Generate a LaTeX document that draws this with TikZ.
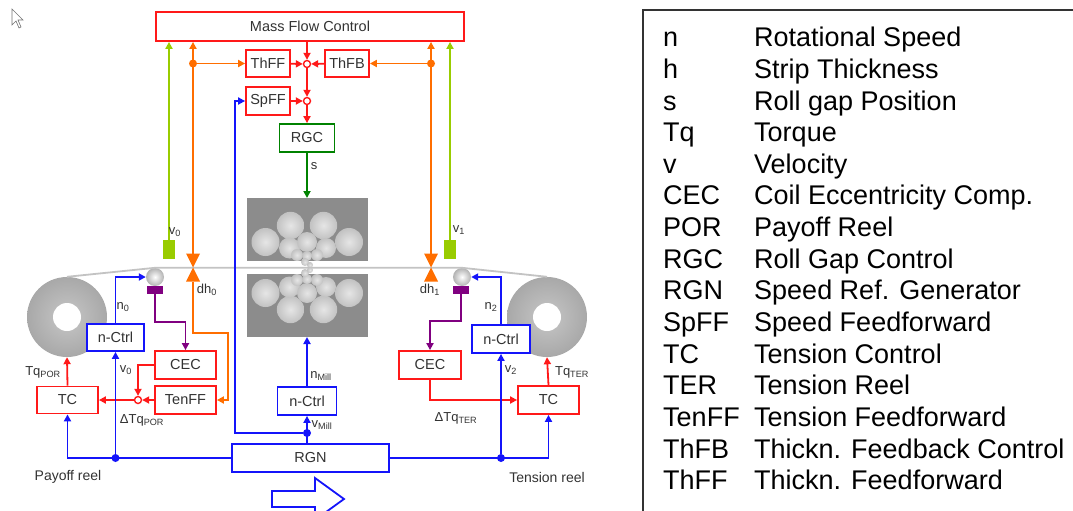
\documentclass[tikz,border=0pt]{standalone}
\usepackage{fontspec}
\setmainfont{Liberation Sans}
\usetikzlibrary{arrows.meta}

\definecolor{ctlred}{RGB}{255,25,25}
\definecolor{ctlblue}{RGB}{20,20,250}
\definecolor{ctlorange}{RGB}{255,110,0}
\definecolor{ctllime}{RGB}{153,204,0}
\definecolor{ctlgreen}{RGB}{0,130,0}
\definecolor{ctlpurple}{RGB}{128,0,128}
\definecolor{stripgray}{RGB}{195,195,195}
\definecolor{txtgray}{RGB}{50,50,50}

\newcommand{\sbs}[1]{\textsubscript{#1}}

\tikzset{
  blk/.style={draw, line width=1.8pt, fill=white, inner sep=0pt, minimum height=28pt,
    text=txtgray, font=\fontsize{14.5}{16}\selectfont},
  sig/.style={line width=1.8pt, -{Triangle[length=7pt,width=7pt]}},
  sumpt/.style={circle, draw=ctlred, fill=white, line width=1.4pt, inner sep=0pt, minimum size=7pt},
  jdot/.style={circle, fill, inner sep=0pt, minimum size=8pt},
  lbl/.style={inner sep=0pt, text=txtgray, font=\fontsize{13}{14}\selectfont},
  coil/.style={circle, inner sep=0pt, minimum size=80pt, shading=radial,
    inner color=black!22, outer color=black!34},
  roller/.style={circle, inner sep=0pt, minimum size=18pt, shading=radial,
    inner color=white, outer color=black!30},
  rollshade/.style={shading=radial, inner color=black!10, outer color=black!24},
  legab/.style={anchor=base west, inner sep=0pt, font=\fontsize{27}{30}\selectfont},
}

\begin{document}
\begin{tikzpicture}[x=1pt, y=-1pt]
\useasboundingbox (0,0) rectangle (1073,511);
\clip (0,0) rectangle (1073,511);

% mouse pointer
\draw[black!55, line width=0.6pt, fill=white] (12,9) -- (12,25) -- (16,21) -- (19,28)
  -- (21,27) -- (18,20) -- (23,20) -- cycle;

% upper control blocks
\node[blk, draw=ctlred, minimum width=308pt, minimum height=29pt] (mfc) at (310,26.5) {Mass Flow Control};
\node[blk, draw=ctlred, minimum width=44pt, minimum height=27pt] (thff) at (268,63.5) {ThFF};
\node[blk, draw=ctlred, minimum width=44pt, minimum height=27pt] (thfb) at (347,63.5) {ThFB};
\node[blk, draw=ctlred, minimum width=44pt] (spff) at (268,101) {SpFF};
\node[blk, draw=ctlgreen, minimum width=55pt] (rgc) at (307,138) {RGC};
\node[sumpt] (sumA) at (307,64) {};
\node[sumpt] (sumB) at (307,101) {};

% coils, rollers and strip
\node[coil] (coilL) at (67,317) {};
\node[coil] (coilR) at (547,317) {};
\fill[white] (coilL) circle (14pt);
\fill[white] (coilR) circle (14pt);
\node[roller] (rollL) at (155,277) {};
\node[roller] (rollR) at (462,277) {};
\draw[stripgray, line width=1.8pt] (coilL.north) -- (rollL.north) -- (rollR.north) -- (coilR.north);

% mill stand
\fill[black!45] (247,198) rectangle (368,261);
\fill[black!45] (247,274) rectangle (368,337);
\foreach \x/\y/\r in {290.5/225.5/13.7, 323.5/225.5/13.7, 265.5/242/14, 349/242/14,
    289.5/248/10.5, 326/248/10, 307/242/10, 297/255/6, 317/255/6, 307/256/5, 305/262/4, 310/265/3}
{
  \shade[rollshade] (\x,\y) circle (\r pt);
  \shade[rollshade] (\x,{535-\y}) circle (\r pt);
}
\coordinate (millT) at (307,198);
\coordinate (millB) at (307,337);

% sensors
\node[fill=ctlpurple, minimum width=16pt, minimum height=8pt, inner sep=0pt] (senL) at (155,290) {};
\node[fill=ctlpurple, minimum width=16pt, minimum height=8pt, inner sep=0pt] (senR) at (461,290) {};
\node[fill=ctllime, minimum width=12pt, minimum height=19pt, inner sep=0pt] (vsenL) at (169,249.5) {};
\node[fill=ctllime, minimum width=12pt, minimum height=19pt, inner sep=0pt] (vsenR) at (450,249.5) {};
\coordinate (dhL) at (193,267.5);
\coordinate (dhR) at (431,267.5);
\coordinate (dhLt) at (193,253.5);
\coordinate (dhLb) at (193,281.5);
\coordinate (dhRt) at (431,253.5);
\fill[ctlorange] (dhL) -- ++(-7,-14) -- ++(14,0) -- cycle (dhL) -- ++(-7,14) -- ++(14,0) -- cycle;
\fill[ctlorange] (dhR) -- ++(-7,-14) -- ++(14,0) -- cycle (dhR) -- ++(-7,14) -- ++(14,0) -- cycle;

% lower control blocks
\node[blk, draw=ctlblue, minimum width=57pt, minimum height=27pt] (ctrlL) at (115.5,337.5) {n-Ctrl};
\node[blk, draw=ctlblue, minimum width=58pt] (ctrlR) at (501,339) {n-Ctrl};
\node[blk, draw=ctlblue, minimum width=59pt] (ctrlM) at (307,401) {n-Ctrl};
\node[blk, draw=ctlred, minimum width=61pt, minimum height=27pt] (tcL) at (67.5,400) {TC};
\node[blk, draw=ctlred, minimum width=61pt] (tcR) at (548.5,400) {TC};
\node[blk, draw=ctlred, minimum width=61pt] (cecL) at (185.5,365) {CEC};
\node[blk, draw=ctlred, minimum width=61pt] (tenff) at (185.5,400) {TenFF};
\node[blk, draw=ctlred, minimum width=62pt] (cecR) at (430,365) {CEC};
\node[blk, draw=ctlblue, minimum width=157pt] (rgn) at (310.5,458) {RGN};
\node[sumpt] (sumC) at (138,400) {};

% thickness path
\draw[sig, ctlred] (sumA |- mfc.south) -- (sumA);
\draw[sig, ctlred] (thff) -- (sumA);
\draw[sig, ctlred] (thfb) -- (sumA);
\draw[sig, ctlred] (sumA) -- (sumB);
\draw[sig, ctlred] (spff) -- (sumB);
\draw[sig, ctlred] (sumB) -- (rgc);
\draw[sig, ctlgreen] (rgc) -- (millT);
\node[lbl] (ls) at (314,166) {s};

% speed and thickness measurements
\draw[sig, ctllime] (vsenL.north) -- (vsenL.north |- mfc.south);
\draw[sig, ctllime] (vsenR.north) -- (vsenR.north |- mfc.south);
\draw[sig, ctlorange] (dhLt) -- (dhLt |- mfc.south);
\draw[sig, ctlorange] (dhRt) -- (dhRt |- mfc.south);
\node[jdot, ctlorange] (ojL) at (dhLt |- thff) {};
\node[jdot, ctlorange] (ojR) at (dhRt |- thfb) {};
\draw[sig, ctlorange] (ojL) -- (thff);
\draw[sig, ctlorange] (ojR) -- (thfb);
\coordinate (obend) at (228,333);
\draw[sig, ctlorange] (dhLb) |- (obend) |- (tenff.east);
\node[lbl] (lv0) at (175,232) {v\sbs{0}};
\node[lbl] (lv1) at (459,230) {v\sbs{1}};
\node[lbl] (ldh0) at (207,290) {dh\sbs{0}};
\node[lbl] (ldh1) at (430,290) {dh\sbs{1}};

% coil eccentricity
\draw[sig, ctlpurple] (senL.south) -- ++(0,28) -| (cecL.north);
\draw[sig, ctlpurple] (senR.south) -- ++(0,27) -| (cecR.north);

% tension control
\draw[sig, ctlred] (cecL.west) -| (sumC.north);
\draw[sig, ctlred] (tenff.west) -- (sumC.east);
\draw[sig, ctlred] (sumC.west) -- (tcL.east);
\draw[sig, ctlred] (tcL.north) -- (coilL.south);
\draw[sig, ctlred] (cecR.south) |- (tcR.west);
\draw[sig, ctlred] (tcR.north) -- (coilR.south);
\node[lbl] (ltqp) at (43,372) {Tq\sbs{POR}};
\node[lbl] (ltqt) at (572,372) {Tq\sbs{TER}};
\node[lbl] (ldtp) at (142,420) {ΔTq\sbs{POR}};
\node[lbl] (ldtt) at (456,418) {ΔTq\sbs{TER}};

% speed reference
\draw[sig, ctlblue] (ctrlL.north) |- (rollL.west);
\draw[sig, ctlblue] (ctrlR.north) |- (rollR.east);
\draw[sig, ctlblue] (rgn.west) -| (tcL.south);
\draw[sig, ctlblue] (rgn.east) -| (tcR.south);
\node[jdot, ctlblue] (bjL) at (ctrlL.south |- rgn.west) {};
\node[jdot, ctlblue] (bjR) at (ctrlR.south |- rgn.east) {};
\draw[sig, ctlblue] (bjL) -- (ctrlL.south);
\draw[sig, ctlblue] (bjR) -- (ctrlR.south);
\draw[sig, ctlblue] (ctrlM |- rgn.north) -- (ctrlM.south);
\node[jdot, ctlblue] (bjM) at (307,433) {};
\coordinate (spbend) at (235,433);
\draw[sig, ctlblue] (bjM) -- (spbend) |- (spff.west);
\draw[sig, ctlblue] (ctrlM) -- (millB);
\node[lbl] (ln0) at (123,307) {n\sbs{0}};
\node[lbl] (ln2) at (491,307) {n\sbs{2}};
\node[lbl] (lv0b) at (126,370) {v\sbs{0}};
\node[lbl] (lv2) at (511,370) {v\sbs{2}};
\node[lbl] (lnm) at (321,376) {n\sbs{Mill}};
\node[lbl] (lvm) at (322,425) {v\sbs{Mill}};

\node[lbl, font=\fontsize{14}{16}\selectfont] (payoff) at (68,477) {Payoff reel};
\node[lbl, font=\fontsize{14}{16}\selectfont] (tension) at (547,477) {Tension reel};

% strip direction
\draw[ctlblue, line width=1.8pt] (272,491) -- (315,491) -- (315,478) -- (344,499) -- (315,520)
  -- (315,507) -- (272,507) -- cycle;

% legend
\draw[black!80, line width=1.5pt] (643,520) -- (643,10) -- (1080,10);
\foreach \ab/\txt [count=\i from 0] in {n/Rotational Speed, h/Strip Thickness, s/Roll gap Position,
    Tq/Torque, v/Velocity, CEC/Coil Eccentricity Comp., POR/Payoff Reel, RGC/Roll Gap Control,
    RGN/Speed Ref. Generator, SpFF/Speed Feedforward, TC/Tension Control, TER/Tension Reel,
    TenFF/Tension Feedforward, ThFB/Thickn. Feedback Control, ThFF/Thickn. Feedforward}
{
  \node[legab] (ab\i) at (663,{46.7+31.65*\i}) {\ab};
  \node[legab] (tx\i) at (754,{46.7+31.65*\i}) {\txt};
}
\end{tikzpicture}
\end{document}
